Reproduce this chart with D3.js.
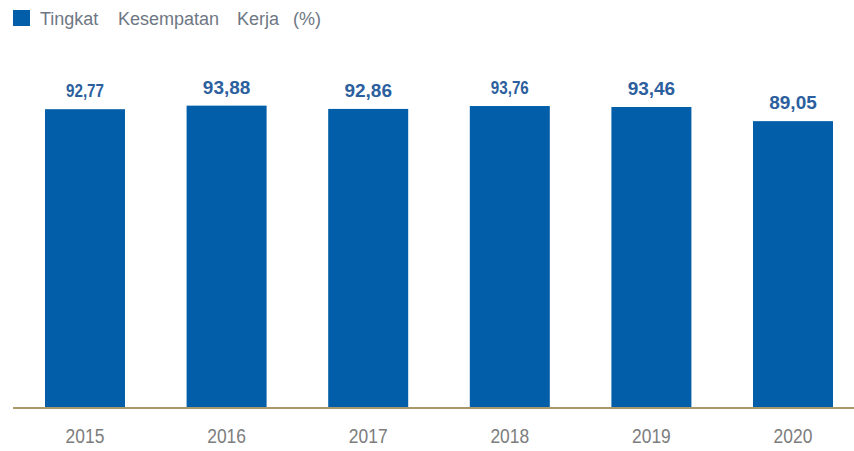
<!DOCTYPE html>
<html><head><meta charset="utf-8">
<script src="https://cdn.jsdelivr.net/npm/d3@7"></script>
<style>body{margin:0;background:#fff}svg{display:block}</style>
</head><body>
<svg id="c" width="854" height="451"></svg>
<script>
const years = ["2015","2016","2017","2018","2019","2020"];
const values = [92.77, 93.88, 92.86, 93.76, 93.46, 89.05];
const valueLabels = ["92,77","93,88","92,86","93,76","93,46","89,05"];
const narrowLabel = [true,false,false,true,false,false];
const legendWords = ["Tingkat","Kesempatan","Kerja","(%)"];

const svg = d3.select("#c");
const step = 141.6, bw = 80;
const x = d3.scaleBand().domain(years)
  .range([45 - 0.2*step, 45 - 0.2*step + step*(6 - (1-bw/step) + 0.4)])
  .paddingInner(1 - bw/step).paddingOuter(0.2);
const y = d3.scaleLinear().domain([0, 100]).range([407, 86]);

// bars
svg.append("g").selectAll("rect").data(values).join("rect")
  .attr("x", (d,i) => x(years[i]))
  .attr("y", d => y(d))
  .attr("width", x.bandwidth())
  .attr("height", d => y(0) - y(d))
  .attr("fill", "#025ea8");

// value labels
svg.append("g").selectAll("text").data(values).join("text")
  .attr("transform", (d,i) => `translate(${x(years[i]) + x.bandwidth()/2},${y(d) - 12}) scale(${narrowLabel[i] ? 0.8 : 1},1)`)
  .attr("text-anchor", "middle")
  .attr("font-family", "'Liberation Sans', Arial")
  .attr("font-weight", "bold")
  .attr("font-size", 19)
  .attr("fill", "#2c5f9e")
  .text((d,i) => valueLabels[i]);

// axis
const axis = d3.axisBottom(x).tickSize(0).tickPadding(20);
const ag = svg.append("g").attr("transform", `translate(0,${y(0)+1})`).call(axis);
ag.select(".domain").remove();
ag.append("line").attr("x1", 13).attr("x2", 854).attr("y1", 0).attr("y2", 0)
  .attr("stroke", "#a8986a").attr("stroke-width", 2);
ag.selectAll(".tick text")
  .attr("font-family", "'Liberation Sans', Arial")
  .attr("font-size", 21).attr("fill", "#7d7d7d")
  .attr("transform", "scale(0.83,1)")
  .attr("x", 0);
ag.selectAll(".tick").each(function(){
  const t = d3.select(this);
  // keep centred under bars after horizontal squeeze
  t.select("text").attr("transform", "scale(0.83,1)");
});

// legend
const lg = svg.append("g");
lg.append("rect").attr("x", 13).attr("y", 10).attr("width", 17).attr("height", 16).attr("fill", "#025ea8");
const wordX = [40, 118, 237, 293];
const lt = lg.append("text").attr("y", 25)
  .attr("font-family", "'Liberation Sans', Arial")
  .attr("font-size", 18).attr("fill", "#6e7784");
lt.selectAll("tspan").data(legendWords).join("tspan")
  .attr("x", (d,i) => wordX[i])
  .text((d,i) => i < legendWords.length - 1 ? d + " " : d);
</script>
</body></html>
